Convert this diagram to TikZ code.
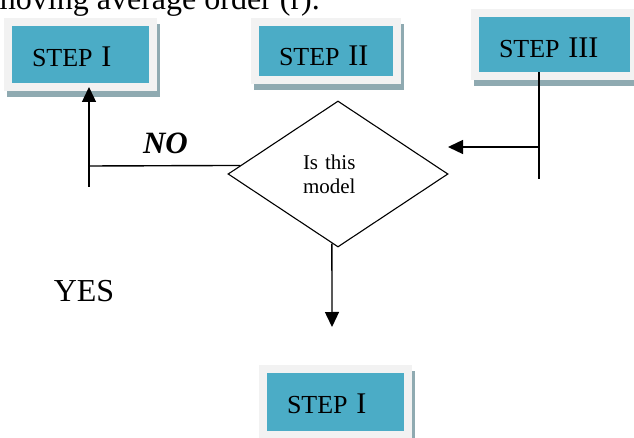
\documentclass[tikz,border=0pt]{standalone}
\usepackage{fontspec}
\setmainfont{Liberation Serif}
\usetikzlibrary{arrows.meta,shapes.geometric}
\pgfdeclarelayer{background}
\pgfsetlayers{background,main}
\definecolor{stepblue}{HTML}{4BACC6}
\definecolor{framec}{HTML}{F2F2F2}
\definecolor{shadowc}{HTML}{8FAAB1}
\newcommand\mystepfont{\fontsize{26}{28}\selectfont}
\newcommand\mynumfont{\fontsize{30}{32}\selectfont}
\tikzset{
  stepbox/.style={fill=stepblue, inner xsep=20pt, inner ysep=0pt, align=left, text depth=0pt, font=\mystepfont},
  decision/.style={shape=diamond, draw, line width=1.1pt, minimum width=220pt, minimum height=146pt, inner sep=0pt, align=left, font=\fontsize{21}{24}\selectfont},
  conn/.style={draw, line width=1.4pt},
  tip/.style={-{Triangle[length=15pt,width=14pt]}},
  lbl/.style={inner sep=0pt}
}
\begin{document}
\begin{tikzpicture}[x=1pt,y=-1pt]
\useasboundingbox (0,0) rectangle (634,438);
\node[lbl, anchor=base east, font=\fontsize{32}{36}\selectfont] (top) at (320,10) {moving average order (r).};
\node[stepbox, text width=97pt, minimum height=57pt, text height=24pt] (s1) at (80.5,54.5) {STEP {\mynumfont I}};
\node[stepbox, text width=94pt, minimum height=50pt, text height=30pt] (s2) at (326,51) {STEP {\mynumfont II}};
\node[stepbox, text width=111pt, minimum height=55pt, text height=26pt] (s3) at (554.5,44.5) {STEP {\mynumfont III}};
\node[stepbox, text width=97pt, minimum height=58pt, text height=22pt] (s4) at (335.5,402) {STEP {\mynumfont I}};
\begin{pgfonlayer}{background}
\foreach \n in {s1,s2,s3,s4} {
  \fill[shadowc] ([shift={(-5,-2)}]\n.north west) rectangle ([shift={(11,14)}]\n.south east);
  \fill[framec] ([shift={(-8,-8)}]\n.north west) rectangle ([shift={(8,8)}]\n.south east);
}
\end{pgfonlayer}
\node[decision, text width=70pt] (d) at (338,174) {Is this\\model};
\node[lbl, font=\fontsize{31}{34}\selectfont\bfseries\itshape] (no) at (165.5,143.5) {NO};
\node[lbl, font=\fontsize{32}{36}\selectfont] (yes) at (84,291.5) {YES};
% left branch
\coordinate (a1) at (89,187);
\coordinate (a1j) at (89,166);
\coordinate (t1) at (89,87);
\draw[conn] (d.175) -- (a1j);
\draw[conn, tip] (a1) -- (t1);
% right branch
\coordinate (r1) at (539,179);
\coordinate (rj) at (539,147);
\coordinate (t3) at (448,147);
\draw[conn] (s3.south -| r1) -- (r1);
\draw[conn, tip] (rj) -- (t3);
% bottom
\coordinate (t4) at (332,327);
\draw[conn, tip] (d.265) -- (t4);
\end{tikzpicture}
\end{document}
